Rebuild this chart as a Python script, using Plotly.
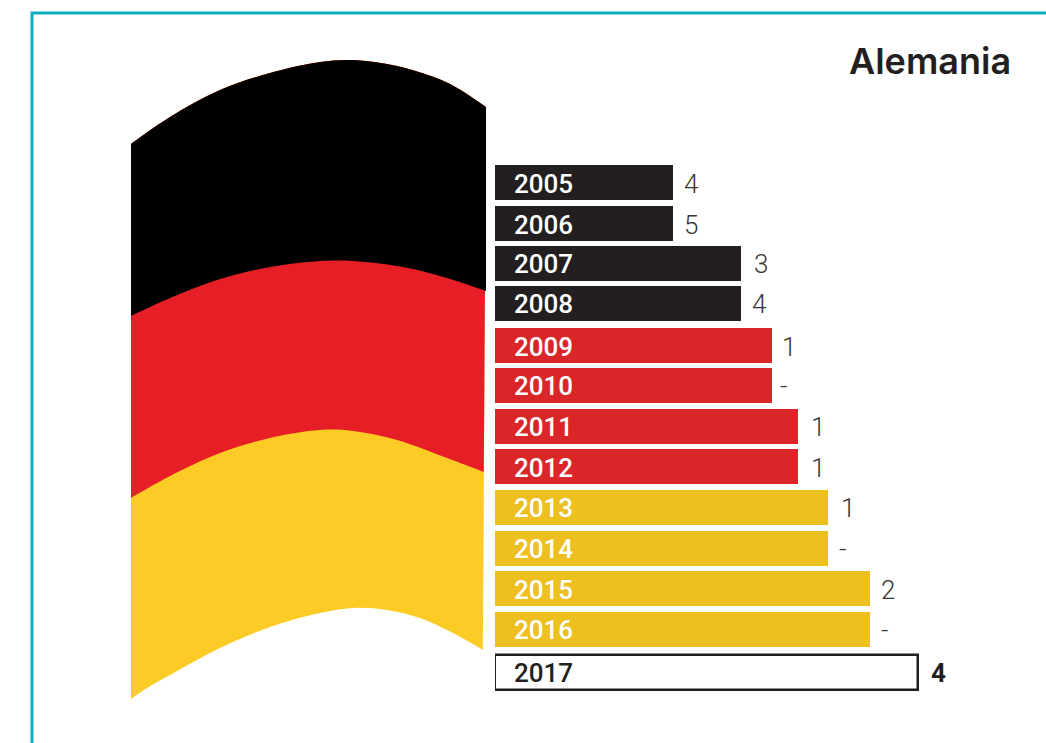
import plotly.graph_objects as go

# ---- data ----
title = "Alemania"
years = [2005, 2006, 2007, 2008, 2009, 2010, 2011, 2012, 2013, 2014, 2015, 2016, 2017]
bar_lengths = [178, 178, 246, 246, 277, 277, 303, 303, 333, 333, 375, 375, 423]
value_labels = ["4", "5", "3", "4", "1", "-", "1", "1", "1", "-", "2", "-", "4"]

# flag outline curves in page pixels
curve_x_top = [131, 170, 220, 270, 320, 353, 397, 448, 486]
curve_y_top = [144, 117, 90, 73, 62, 60, 66, 83, 107]
curve_x_b1 = [131, 170, 220, 270, 320, 353, 403, 447, 486]
curve_y_b1 = [316, 298, 279, 267, 261, 261, 267, 278, 291]
curve_x_b2 = [131, 170, 220, 270, 320, 353, 397, 447, 484]
curve_y_b2 = [498, 476, 453, 438, 430, 431, 440, 458, 472]
curve_x_bot = [131, 147, 170, 220, 270, 320, 353, 387, 420, 453, 483]
curve_y_bot = [699, 688, 675, 648, 627, 613, 608, 610, 618, 633, 650]

# ---- styling ----
BAR_COLORS = ["#231F20"] * 4 + ["#DA2628"] * 4 + ["#EDC020"] * 4 + ["#FFFFFF"]
TXT_COLORS = ["#FFFFFF"] * 12 + ["#231F20"]
FONT = "Roboto"
PX_ROW = 40.83
TEXT_DROP_PX = 3.5
ROW_NUDGE_PX = [0, 0.2, -0.7, -1.5, -0.3, -1.2, -1, -1.8, -1.7, -1.5, -2.3, -2.2, 0]
LABEL_NUDGE_PX = [11, 11, 13, 11, 10, 8, 13, 13, 13, 11, 11, 11, 13]
row_pos = [y + n / PX_ROW for y, n in zip(years, ROW_NUDGE_PX)]
text_pos = [y + TEXT_DROP_PX / PX_ROW for y in row_pos]

fig = go.Figure()


def sharp(seq):
    """Repeat the two ends so that the spline keeps the corners sharp."""
    return [seq[0]] * 2 + seq[1:-1] + [seq[-1]] * 2


def region(top_x, top_y, low_x, low_y, color):
    fig.add_trace(go.Scatter(
        x=sharp(top_x) + sharp(low_x[::-1]), y=sharp(top_y) + sharp(low_y[::-1]),
        mode="lines", fill="toself", fillcolor=color,
        line=dict(width=0, color=color, shape="spline", smoothing=1, simplify=False),
        xaxis="x2", yaxis="y2", hoverinfo="skip", showlegend=False))


region(curve_x_top, curve_y_top, curve_x_bot, curve_y_bot, "#FDCB25")
region(curve_x_top, curve_y_top, curve_x_b2, curve_y_b2, "#E61F26")
region(curve_x_top, curve_y_top, curve_x_b1, curve_y_b1, "#000000")

fig.add_trace(go.Bar(
    y=row_pos, x=bar_lengths, orientation="h", width=[35 / PX_ROW] * 13,
    marker=dict(color=BAR_COLORS,
                line=dict(color=["rgba(0,0,0,0)"] * 12 + ["#231F20"], width=[0] * 12 + [2.5])),
    hoverinfo="skip", showlegend=False))

fig.add_trace(go.Scatter(
    x=[19] * len(years), y=text_pos, mode="text", text=[str(y) for y in years],
    textposition="middle right",
    textfont=dict(family=FONT, size=26, color=TXT_COLORS, weight=500),
    hoverinfo="skip", showlegend=False))

fig.add_trace(go.Scatter(
    x=[l + n for l, n in zip(bar_lengths, LABEL_NUDGE_PX)], y=text_pos, mode="text",
    text=value_labels, textposition="middle right",
    textfont=dict(family=FONT, size=26, color=["#3A3637"] * 12 + ["#231F20"],
                  weight=[300] * 12 + [700]),
    hoverinfo="skip", showlegend=False))

fig.update_layout(
    width=1046, height=743, margin=dict(l=0, r=0, t=0, b=0),
    paper_bgcolor="white", plot_bgcolor="rgba(0,0,0,0)", bargap=0,
    xaxis=dict(domain=[495 / 1046, 1], range=[0, 551], visible=False, fixedrange=True),
    yaxis=dict(domain=[0, 1], range=[2005 + (743 - 182.5) / PX_ROW, 2005 - 182.5 / PX_ROW],
               visible=False, fixedrange=True),
    xaxis2=dict(domain=[0, 1], range=[0, 1046], visible=False, anchor="y2", fixedrange=True),
    yaxis2=dict(domain=[0, 1], range=[743, 0], visible=False, anchor="x2", fixedrange=True),
    shapes=[dict(type="path", xref="paper", yref="paper",
                 path="M %f,0 L %f,%f L 1,%f" % (32 / 1046, 32 / 1046, 1 - 13 / 743, 1 - 13 / 743),
                 line=dict(color="#10ABBC", width=3))],
    annotations=[dict(text=title, xref="paper", yref="paper", x=1013 / 1046, y=1 - 61 / 743,
                      xanchor="right", yanchor="middle", showarrow=False,
                      font=dict(family="Inter", size=36, color="#231F20", weight=600))],
)

fig.write_html("out.html", config={"displayModeBar": False},
               post_script="document.body.style.margin='0';")
